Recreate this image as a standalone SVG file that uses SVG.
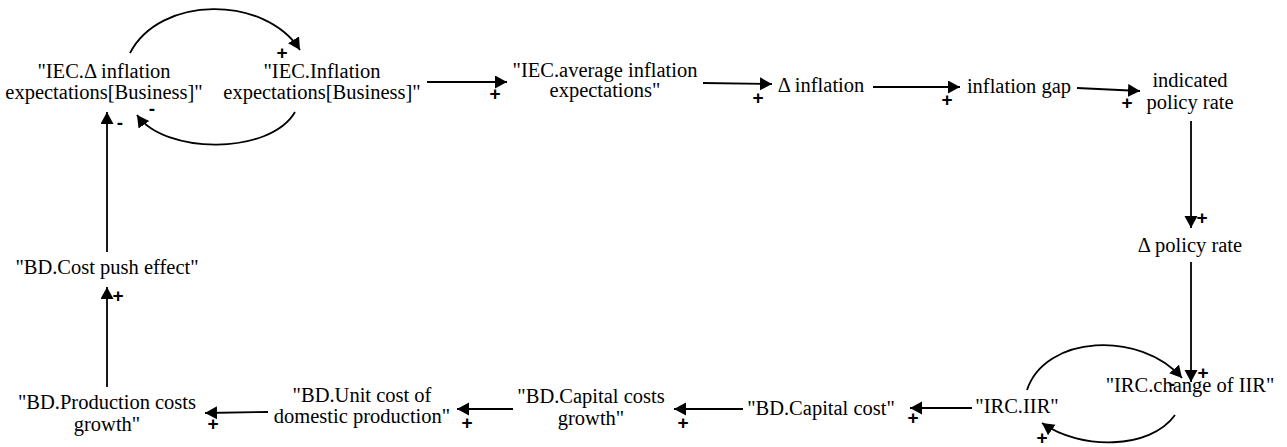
<svg xmlns="http://www.w3.org/2000/svg" width="1287" height="447" viewBox="0 0 1287 447" font-family="'Liberation Serif', 'Times New Roman', 'DejaVu Serif', serif">
<style>
text{font-family:'Liberation Serif','Times New Roman','DejaVu Serif',serif;font-size:20.5px;fill:#000}
.n{text-anchor:middle}
.p{font-family:'Liberation Sans',Arial,sans-serif;font-size:19px;font-weight:bold;text-anchor:middle}
.c{fill:none;stroke:#000;stroke-width:1.8}
</style>
<defs>
<marker id="ah" markerUnits="userSpaceOnUse" markerWidth="13" markerHeight="14" refX="12" refY="6.5" orient="auto">
<path d="M0,0 L12,6.5 L0,13 z" fill="#000"/>
</marker>
</defs>
<rect width="1287" height="447" fill="#fff"/>
<g id="connectors">
<path class="c" d="M130,53 C160,-5 265,-5 300,50" marker-end="url(#ah)"/>
<path class="c" d="M295,112 C270,155 165,155 137,115" marker-end="url(#ah)"/>
<path class="c" d="M107,252 L107,112" marker-end="url(#ah)"/>
<path class="c" d="M427,82 L507,82" marker-end="url(#ah)"/>
<path class="c" d="M703,83 L772,84" marker-end="url(#ah)"/>
<path class="c" d="M873,87 L960,87" marker-end="url(#ah)"/>
<path class="c" d="M1077,88 L1140,91" marker-end="url(#ah)"/>
<path class="c" d="M1191,121 L1191,228" marker-end="url(#ah)"/>
<path class="c" d="M1191,262 L1191,382" marker-end="url(#ah)"/>
<path class="c" d="M1027,390 C1045,335 1140,330 1182,378" marker-end="url(#ah)"/>
<path class="c" d="M1175,415 C1150,450 1080,450 1042,423" marker-end="url(#ah)"/>
<path class="c" d="M972,408 L910,408" marker-end="url(#ah)"/>
<path class="c" d="M743,409 L674,409" marker-end="url(#ah)"/>
<path class="c" d="M513,409 L457,409" marker-end="url(#ah)"/>
<path class="c" d="M268,412 L205,413" marker-end="url(#ah)"/>
<path class="c" d="M107,387 L107,287" marker-end="url(#ah)"/>
<text class="p" x="282" y="59">+</text>
<text class="p" x="152" y="115">-</text>
<text class="p" x="120" y="129">-</text>
<text class="p" x="495" y="100">+</text>
<text class="p" x="758" y="104">+</text>
<text class="p" x="947" y="106">+</text>
<text class="p" x="1127" y="109">+</text>
<text class="p" x="1202" y="224">+</text>
<text class="p" x="1203" y="379">+</text>
<text class="p" x="1172" y="390">-</text>
<text class="p" x="1042" y="444">+</text>
<text class="p" x="913" y="424">+</text>
<text class="p" x="683" y="429">+</text>
<text class="p" x="467" y="429">+</text>
<text class="p" x="213" y="430">+</text>
<text class="p" x="118" y="302">+</text>
</g>
<g id="n1"><text class="n" x="104" y="78">"IEC.Δ inflation</text><text class="n" x="104" y="99">expectations[Business]"</text></g>
<g id="n2"><text class="n" x="322" y="78">"IEC.Inflation</text><text class="n" x="322" y="99">expectations[Business]"</text></g>
<g id="n3"><text class="n" x="605" y="77">"IEC.average inflation</text><text class="n" x="605" y="97">expectations"</text></g>
<g id="n4"><text class="n" x="821" y="92">Δ inflation</text></g>
<g id="n5"><text class="n" x="1019" y="93">inflation gap</text></g>
<g id="n6"><text class="n" x="1190" y="87">indicated</text><text class="n" x="1190" y="109">policy rate</text></g>
<g id="n7"><text class="n" x="1190" y="252">Δ policy rate</text></g>
<g id="n8"><text class="n" x="1190" y="392">"IRC.change of IIR"</text></g>
<g id="n9"><text class="n" x="1017" y="413">"IRC.IIR"</text></g>
<g id="n10"><text class="n" x="821" y="415">"BD.Capital cost"</text></g>
<g id="n11"><text class="n" x="591" y="403">"BD.Capital costs</text><text class="n" x="591" y="425">growth"</text></g>
<g id="n12"><text class="n" x="362" y="402">"BD.Unit cost of</text><text class="n" x="362" y="423">domestic production"</text></g>
<g id="n13"><text class="n" x="107" y="409">"BD.Production costs</text><text class="n" x="107" y="431">growth"</text></g>
<g id="n14"><text class="n" x="107" y="274">"BD.Cost push effect"</text></g>
</svg>
